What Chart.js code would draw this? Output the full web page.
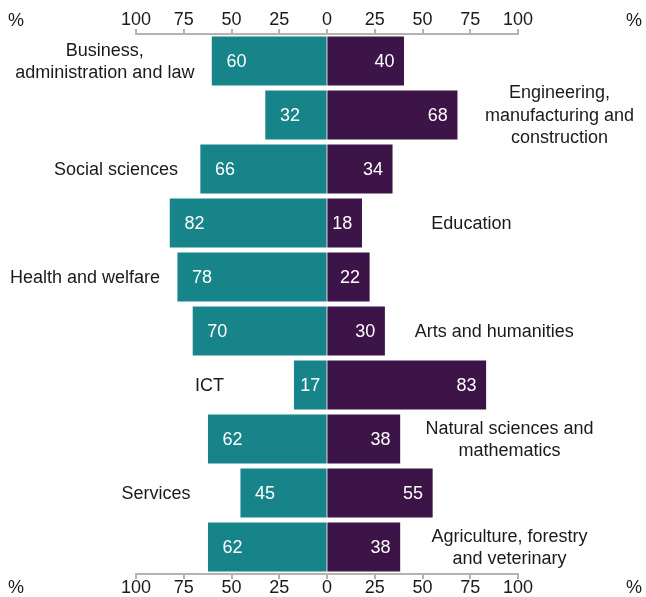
<!DOCTYPE html>
<html>
<head>
<meta charset="utf-8">
<script src="https://cdn.jsdelivr.net/npm/chart.js@4"></script>
<style>
  body { margin: 0; background: #fff; }
  .wrap { width: 646px; height: 597px; }
</style>
</head>
<body>
<div class="wrap"><canvas id="fieldChart"></canvas></div>
<script>
// fields of study, top to bottom (each entry is one label, split in lines)
const fields = [
  ['Business,', 'administration and law'],
  ['Engineering,', 'manufacturing and', 'construction'],
  ['Social sciences'],
  ['Education'],
  ['Health and welfare'],
  ['Arts and humanities'],
  ['ICT'],
  ['Natural sciences and', 'mathematics'],
  ['Services'],
  ['Agriculture, forestry', 'and veterinary']
];

// share in % (teal goes to the left, purple to the right)
const tealShare = [60, 32, 66, 82, 78, 70, 17, 62, 45, 62];
const purpleShare = [40, 68, 34, 18, 22, 30, 83, 38, 55, 38];

const axisTicks = [-100, -75, -50, -25, 0, 25, 50, 75, 100];

const TEAL = '#168489';
const PURPLE = '#3d1447';
const FONT = '"Liberation Sans", Arial, Helvetica, sans-serif';
const INK = '#1a1a1a';
const AXIS_GREY = '#b3b3b3';

// labels on the bars + field names beside them
const barText = {
  id: 'barText',
  afterDatasetsDraw(chart) {
    const ctx = chart.ctx;
    const left = chart.getDatasetMeta(0).data;
    const right = chart.getDatasetMeta(1).data;
    ctx.save();
    ctx.font = '18px ' + FONT;
    ctx.textBaseline = 'middle';

    for (let i = 0; i < fields.length; i++) {
      const lb = left[i], rb = right[i];
      const y = lb.y + 1;

      // teal value
      ctx.fillStyle = '#fff';
      let txt = String(tealShare[i]);
      let w = ctx.measureText(txt).width;
      let start = Math.min(lb.x, lb.base);
      let mid = (lb.x + lb.base) / 2;
      ctx.textAlign = 'left';
      ctx.fillText(txt, Math.min(start + 14, mid - w / 2), y);

      // purple value
      txt = String(purpleShare[i]);
      ctx.textAlign = 'right';
      ctx.fillText(txt, Math.max(rb.x, rb.base) - 9, y);

      // field name, alternating sides
      const lines = fields[i];
      let maxW = 0;
      lines.forEach(l => { maxW = Math.max(maxW, ctx.measureText(l).width); });
      let cx;
      if (i % 2 === 0) {
        cx = Math.min(lb.x, lb.base) - Math.max(maxW / 2 + 18, 85);
        cx = Math.max(cx, 8 + maxW / 2);
      } else {
        cx = Math.max(rb.x, rb.base) + Math.max(maxW / 2 + 20, 110);
        cx = Math.min(cx, chart.width - 12 - maxW / 2);
      }
      const lh = 22.5;
      const y0 = y - (lines.length - 1) * lh / 2;
      ctx.fillStyle = INK;
      ctx.textAlign = 'center';
      lines.forEach((l, k) => ctx.fillText(l, cx, y0 + k * lh));
    }

    // % markers at the axis ends
    const topY = chart.scales.x.top + 10;
    const botY = chart.scales.x2.bottom - 9;
    ctx.fillStyle = INK;
    ctx.fillText('%', 16, topY);
    ctx.fillText('%', 634, topY);
    ctx.fillText('%', 16, botY);
    ctx.fillText('%', 634, botY);
    ctx.restore();
  }
};

function axisOpts(pos) {
  return {
    type: 'linear',
    position: pos,
    min: -100,
    max: 100,
    afterBuildTicks: (scale) => { scale.ticks = axisTicks.map(v => ({ value: v })); },
    grid: {
      drawOnChartArea: false,
      drawTicks: true,
      tickLength: 5,
      color: AXIS_GREY,
      lineWidth: 2
    },
    border: { display: true, color: AXIS_GREY, width: 2 },
    ticks: {
      padding: 0,
      color: INK,
      font: { family: FONT, size: 18, lineHeight: 1 },
      maxRotation: 0,
      callback: (v) => Math.abs(v)
    }
  };
}

const ctx = document.getElementById('fieldChart');

new Chart(ctx, {
  type: 'bar',
  data: {
    labels: fields.map(f => f.join(' ')),
    datasets: [{
      label: 'teal',
      data: tealShare.map(v => -v),
      backgroundColor: TEAL,
      borderWidth: 0,
      inflateAmount: 0.6, // closes the hairline gap at zero
      barPercentage: 0.885,
      categoryPercentage: 1,
      xAxisID: 'x'
    },
    {
      label: 'purple',
      data: purpleShare,
      backgroundColor: PURPLE,
      borderWidth: 0,
      inflateAmount: 0.6,
      barPercentage: 0.885,
      categoryPercentage: 1,
      xAxisID: 'x'
    }]
  },
  options: {
    indexAxis: 'y',
    responsive: true,
    maintainAspectRatio: false,
    animation: false,
    layout: {
      padding: { top: 11, bottom: 0, left: 136, right: 128 }
    },
    scales: {
      x: axisOpts('top'),
      x2: axisOpts('bottom'),
      y: { display: false, stacked: true }
    },
    plugins: {
      legend: { display: false },
      tooltip: { enabled: false }
    }
  },
  plugins: [barText]
});
</script>
</body>
</html>
